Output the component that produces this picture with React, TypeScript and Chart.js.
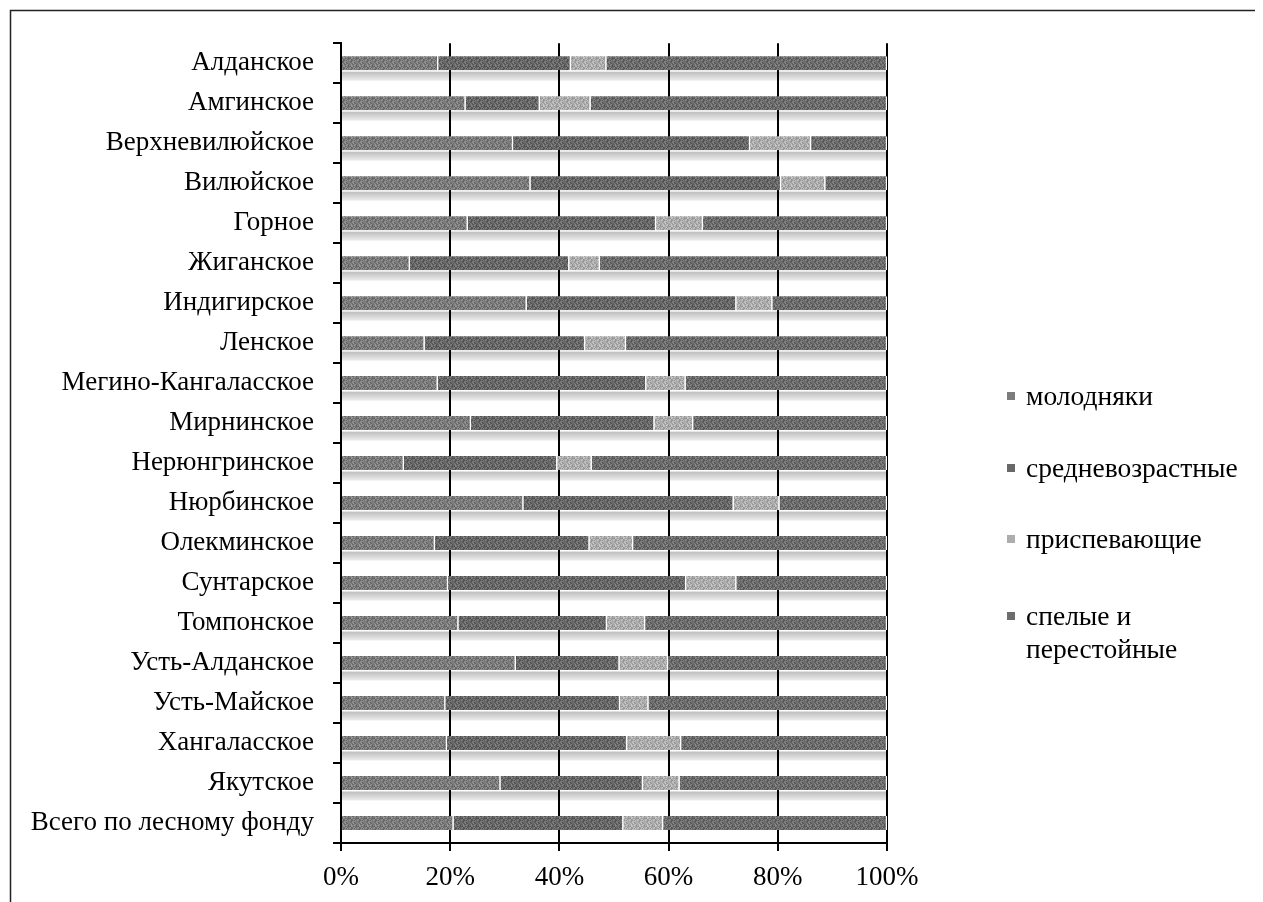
import React, { useEffect, useRef } from "react";
import { Chart, registerables } from "chart.js";

Chart.register(...registerables);

const categories = [
  "Алданское",
  "Амгинское",
  "Верхневилюйское",
  "Вилюйское",
  "Горное",
  "Жиганское",
  "Индигирское",
  "Ленское",
  "Мегино-Кангаласское",
  "Мирнинское",
  "Нерюнгринское",
  "Нюрбинское",
  "Олекминское",
  "Сунтарское",
  "Томпонское",
  "Усть-Алданское",
  "Усть-Майское",
  "Хангаласское",
  "Якутское",
  "Всего по лесному фонду",
];

const molodnyaki = [17.8, 22.8, 31.5, 34.7, 23.2, 12.6, 34.0, 15.3, 17.7, 23.8, 11.5, 33.4, 17.2, 19.6, 21.5, 32.0, 19.1, 19.4, 29.2, 20.6];
const srednevozrastnye = [24.3, 13.6, 43.4, 45.9, 34.5, 29.2, 38.4, 29.4, 38.2, 33.6, 28.1, 38.5, 28.3, 43.6, 27.2, 19.0, 32.0, 33.0, 26.1, 31.1];
const prispevayushchie = [6.5, 9.3, 11.2, 8.1, 8.6, 5.6, 6.6, 7.5, 7.2, 7.1, 6.3, 8.4, 8.0, 9.2, 7.0, 8.9, 5.2, 9.9, 6.7, 7.3];
const spelye = [51.4, 54.3, 13.9, 11.3, 33.7, 52.6, 21.0, 47.8, 36.9, 35.5, 54.1, 19.7, 46.5, 27.6, 44.3, 40.1, 43.7, 37.7, 38.0, 41.0];

const seriesNames = ["молодняки", "средневозрастные", "приспевающие", "спелые и перестойные"];
const seriesLegendLines = [["молодняки"], ["средневозрастные"], ["приспевающие"], ["спелые и", "перестойные"]];
const seriesColors = ["#7c7c7c", "#686868", "#adadad", "#6d6d6d"];

const xTicks = [0, 20, 40, 60, 80, 100];

const FONT = "'Liberation Serif', 'Times New Roman', serif";
const W = 1255;
const H = 894;

function hexToRgb(hex: string) {
  const n = parseInt(hex.slice(1), 16);
  return [(n >> 16) & 255, (n >> 8) & 255, n & 255];
}

// deterministic speckle texture (visual style only, not data)
function makePattern(hex: string) {
  const size = 8;
  const c = document.createElement("canvas");
  c.width = size;
  c.height = size;
  const ctx = c.getContext("2d");
  if (!ctx) return hex;
  const img = ctx.createImageData(size, size);
  const [r, g, b] = hexToRgb(hex);
  for (let y = 0; y < size; y++) {
    for (let x = 0; x < size; x++) {
      const k = ((x * 5 + y * 3 + ((x * y) % 3)) % 4) - 1.5;
      const d = k * 16;
      const i = (y * size + x) * 4;
      img.data[i] = Math.max(0, Math.min(255, r + d));
      img.data[i + 1] = Math.max(0, Math.min(255, g + d));
      img.data[i + 2] = Math.max(0, Math.min(255, b + d));
      img.data[i + 3] = 255;
    }
  }
  ctx.putImageData(img, 0, 0);
  const p = ctx.createPattern(c, "repeat");
  return p || hex;
}

export default function App() {
  const ref = useRef<HTMLCanvasElement | null>(null);

  useEffect(() => {
    if (!ref.current) return;

    const shadowPlugin = {
      id: "barShadow",
      beforeDraw(chart: any) {
        const meta = chart.getDatasetMeta(0);
        const xs = chart.scales.x;
        const ctx = chart.ctx;
        const x0 = xs.getPixelForValue(xTicks[0]);
        const x1 = xs.getPixelForValue(xTicks[xTicks.length - 1]);
        ctx.save();
        meta.data.forEach((el: any, i: number) => {
          if (i === meta.data.length - 1) return;
          const bottom = el.y + el.height / 2;
          const top = bottom + 1.5;
          const h = 9;
          const g = ctx.createLinearGradient(0, top, 0, top + h);
          g.addColorStop(0, "#bdbdbd");
          g.addColorStop(1, "#ededed");
          ctx.fillStyle = g;
          ctx.fillRect(x0, top, x1 - x0, h);
        });
        ctx.restore();
      },
    };

    const framePlugin = {
      id: "frame",
      afterDraw(chart: any) {
        const ctx = chart.ctx;
        ctx.save();
        ctx.strokeStyle = "#222";
        ctx.lineWidth = 1.5;
        ctx.beginPath();
        ctx.moveTo(2.5, H + 10);
        ctx.lineTo(2.5, 2.5);
        ctx.lineTo(W + 10, 2.5);
        ctx.stroke();
        ctx.restore();
      },
    };

    const data = [molodnyaki, srednevozrastnye, prispevayushchie, spelye];

    const chart = new Chart(ref.current, {
      type: "bar",
      data: {
        labels: categories,
        datasets: data.map((d, i) => ({
          label: seriesNames[i],
          data: d,
          backgroundColor: makePattern(seriesColors[i]) as any,
          borderColor: "#ffffff",
          borderWidth: { left: 0, right: 1.5, top: 0, bottom: 0 },
          borderSkipped: false,
          barThickness: 14,
        })),
      },
      options: {
        indexAxis: "y",
        responsive: false,
        animation: false,
        devicePixelRatio: 1,
        layout: { padding: { top: 32, right: W - 879, bottom: 0, left: 0 } },
        plugins: {
          legend: { display: false },
          tooltip: { enabled: false },
        },
        scales: {
          x: {
            stacked: true,
            min: 0,
            max: 100,
            afterFit(scale: any) {
              scale.height = H - 835;
            },
            afterBuildTicks(scale: any) {
              scale.ticks = xTicks.map((v) => ({ value: v }));
            },
            ticks: {
              callback: (v: any) => v + "%",
              color: "#000",
              font: { family: FONT, size: 27 },
              padding: 11,
              maxRotation: 0,
            },
            grid: {
              color: "#000",
              lineWidth: 2,
              drawOnChartArea: true,
              drawTicks: true,
              tickLength: 8,
            },
            border: { display: true, color: "#000", width: 2 },
          },
          y: {
            stacked: true,
            afterFit(scale: any) {
              scale.width = 333;
            },
            ticks: {
              color: "#000",
              font: { family: FONT, size: 27 },
              padding: 19,
            },
            grid: {
              color: "#000",
              lineWidth: 2,
              drawOnChartArea: false,
              drawTicks: true,
              tickLength: 8,
              offset: true,
            },
            border: { display: true, color: "#000", width: 2 },
          },
        },
      },
      plugins: [shadowPlugin, framePlugin],
    });

    return () => chart.destroy();
  }, []);

  const legendCenters = [395, 467, 538, 615];
  return (
    <div style={{ position: "relative", width: W, height: H }}>
      <canvas ref={ref} width={W} height={H} style={{ display: "block", width: W, height: H }} />
      {seriesLegendLines.map((lines, i) => (
        <div
          key={i}
          style={{
            position: "absolute",
            left: 1007 - 8,
            top: legendCenters[i] - 8 - 16.5,
            display: "flex",
            alignItems: "flex-start",
            fontFamily: FONT,
            fontSize: 27.5,
            lineHeight: "33px",
            color: "#000",
          }}
        >
          <span
            style={{
              display: "inline-block",
              width: 8,
              height: 8,
              background: seriesColors[i],
              marginTop: 13,
              marginRight: 11,
            }}
          />
          <span>
            {lines.map((l, j) => (
              <div key={j}>{l}</div>
            ))}
          </span>
        </div>
      ))}
    </div>
  );
}
